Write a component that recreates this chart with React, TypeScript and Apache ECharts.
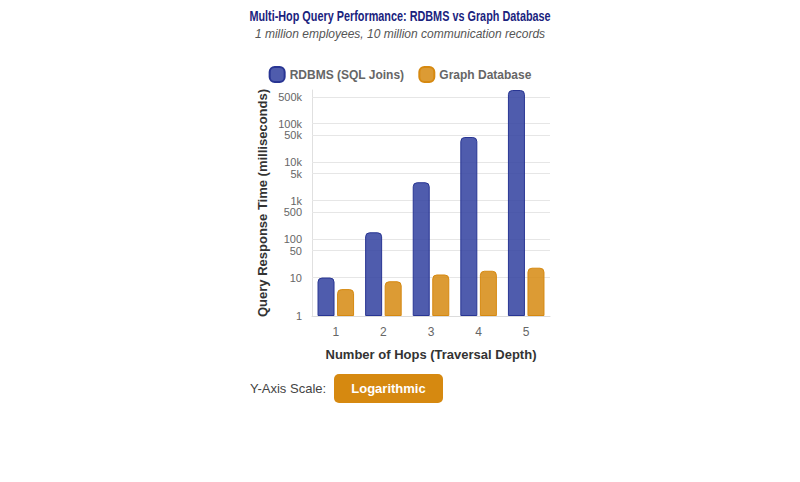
import { useEffect, useRef } from "react";
import * as echarts from "echarts";

// ─── Data ──────────────────────────────────────────────────────────
const HOPS = ["1", "2", "3", "4", "5"];
const RDBMS_MS = [10, 150, 3000, 45000, 750000];
const GRAPH_MS = [5, 8, 12, 15, 18];
// extra ticks Chart.js puts between the decades
const MID_TICKS = [50, 500, 5000, 50000, 500000];
const DECADE_TICKS = [10, 100, 1000, 10000, 100000];

const FONT = "'Helvetica Neue', Helvetica, Arial, 'Liberation Sans', sans-serif";

const BLUE_FILL = "rgba(48, 63, 159, 0.85)";
const BLUE_LINE = "#283593";
const ORANGE_FILL = "rgba(214, 137, 16, 0.85)";
const ORANGE_LINE = "#d68910";
const GRID_LINE = "#e6e6e6";
const TICK_TEXT = "#666";

const LEGEND_ICON =
  "path://M5,0 H10 A5,5 0 0 1 15,5 V10 A5,5 0 0 1 10,15 H5 A5,5 0 0 1 0,10 V5 A5,5 0 0 1 5,0 Z";

const fmtTick = (v: number) => {
  const n = Math.round(v);
  return n >= 1000 ? `${n / 1000}k` : `${n}`;
};

export default function App() {
  const ref = useRef<HTMLDivElement>(null);

  useEffect(() => {
    if (!ref.current) return;
    const chart = echarts.init(ref.current, undefined, { renderer: "svg" });

    const gridLines = [
      ...DECADE_TICKS.map((v) => ({ yAxis: v, label: { show: false } })),
      ...MID_TICKS.map((v) => ({ yAxis: v })),
    ];

    chart.setOption({
      animation: false,
      textStyle: { fontFamily: FONT },
      legend: {
        top: 61,
        left: "center",
        itemWidth: 15,
        itemHeight: 15,
        itemGap: 14,
        icon: LEGEND_ICON,
        textStyle: { color: TICK_TEXT, fontSize: 12, fontWeight: "bold", fontFamily: FONT },
      },
      grid: { left: 312, right: 250, top: 90, bottom: 166, containLabel: false },
      xAxis: {
        type: "category",
        data: HOPS,
        name: "Number of Hops (Traversal Depth)",
        nameLocation: "middle",
        nameGap: 32,
        nameTextStyle: { color: "#333", fontSize: 13, fontWeight: "bold" },
        axisLine: { lineStyle: { color: "#dcdcdc" } },
        axisTick: { show: false },
        axisLabel: { color: TICK_TEXT, fontSize: 12, margin: 10 },
        splitLine: { show: false },
      },
      yAxis: {
        type: "log",
        logBase: 10,
        min: 1,
        max: Math.max(...RDBMS_MS),
        name: "Query Response Time (milliseconds)",
        nameLocation: "middle",
        nameGap: 43,
        nameTextStyle: { color: "#333", fontSize: 13, fontWeight: "bold" },
        axisLine: { show: true, lineStyle: { color: "#e0e0e0" } },
        axisTick: { show: false },
        axisLabel: {
          color: TICK_TEXT,
          fontSize: 11,
          margin: 10,
          showMaxLabel: false,
          formatter: fmtTick,
        },
        splitLine: { show: false },
      },
      series: [
        {
          name: "RDBMS (SQL Joins)",
          type: "bar",
          data: RDBMS_MS,
          barWidth: 17,
          barGap: "15%",
          itemStyle: {
            color: BLUE_FILL,
            borderColor: BLUE_LINE,
            borderWidth: 1,
            borderRadius: [4, 4, 0, 0],
          },
          z: 3,
          markLine: {
            silent: true,
            symbol: "none",
            animation: false,
            lineStyle: { color: GRID_LINE, width: 1, type: "solid" },
            label: {
              show: true,
              position: "start",
              distance: 10,
              color: TICK_TEXT,
              fontSize: 11,
              fontFamily: FONT,
              formatter: (p: any) => fmtTick(p.value),
            },
            emphasis: { disabled: true },
            data: gridLines,
            z: 1,
          },
        },
        {
          name: "Graph Database",
          type: "bar",
          data: GRAPH_MS,
          barWidth: 17,
          itemStyle: {
            color: ORANGE_FILL,
            borderColor: ORANGE_LINE,
            borderWidth: 1,
            borderRadius: [4, 4, 0, 0],
          },
          z: 3,
        },
      ],
      graphic: [
        {
          // condensed bold title
          type: "text",
          x: 400,
          y: 17,
          scaleX: 0.775,
          style: {
            text: "Multi-Hop Query Performance: RDBMS vs Graph Database",
            fill: "#1a237e",
            fontSize: 14,
            fontWeight: "bold",
            fontFamily: FONT,
            align: "center",
            verticalAlign: "middle",
          },
        },
        {
          type: "text",
          x: 400,
          y: 34,
          style: {
            text: "1 million employees, 10 million communication records",
            fill: "#555",
            fontSize: 12,
            fontStyle: "italic",
            fontFamily: FONT,
            align: "center",
            verticalAlign: "middle",
          },
        },
        {
          type: "text",
          left: 250,
          top: 382,
          style: { text: "Y-Axis Scale:", fill: "#444", fontSize: 13, fontFamily: FONT },
        },
        {
          type: "group",
          left: 334,
          top: 374,
          children: [
            {
              type: "rect",
              shape: { x: 0, y: 0, width: 109, height: 29, r: 5 },
              style: { fill: "#d68910" },
            },
            {
              type: "text",
              x: 54.5,
              y: 14.5,
              style: {
                text: "Logarithmic",
                fill: "#fff",
                fontSize: 13,
                fontWeight: "bold",
                fontFamily: FONT,
                align: "center",
                verticalAlign: "middle",
              },
            },
          ],
        },
      ],
    });

    return () => chart.dispose();
  }, []);

  return (
    <div
      ref={ref}
      style={{ position: "absolute", left: 0, top: 0, width: 800, height: 482, background: "#fff" }}
    />
  );
}
